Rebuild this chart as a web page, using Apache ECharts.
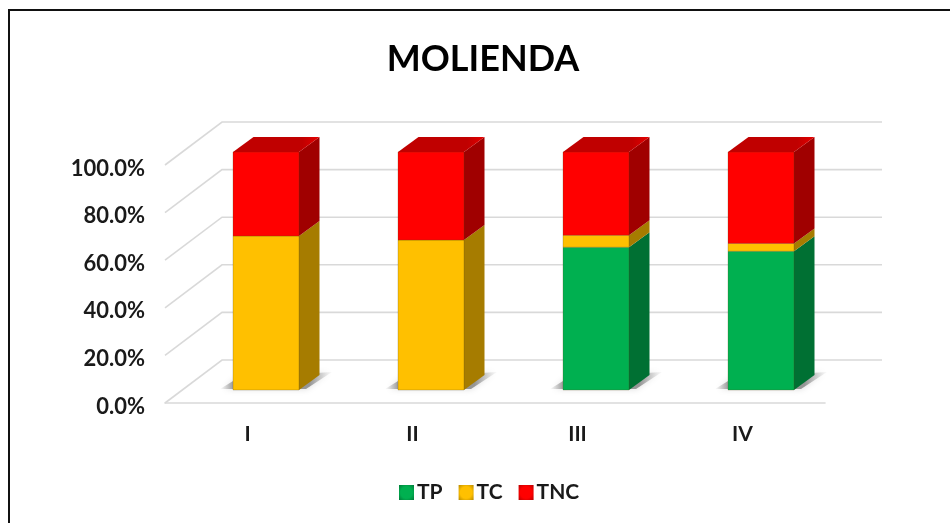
<!DOCTYPE html>
<html>
<head>
<meta charset="utf-8">
<style>
  html, body { margin: 0; padding: 0; background: #fff; }
  #main { width: 950px; height: 523px; }
</style>
<script src="https://cdn.jsdelivr.net/npm/echarts@6/dist/echarts.min.js"></script>
</head>
<body>
<div id="main"></div>
<script>
var categories = ['I', 'II', 'III', 'IV'];
var tpValues = [0, 0, 60, 58.3];
var tcValues = [64.7, 63, 5, 3.3];
var tncValues = [35.3, 37, 35, 38.4];
var yTicks = [0, 20, 40, 60, 80, 100];

// profundidad del efecto 3D, en pixeles
var WALL_DX = 57, WALL_DY = 43;
var BAR_DX = 18.5, BAR_DY = 13;
var SIDE_DX = 20.5, SIDE_DY = 15;

var myChart = echarts.init(document.getElementById('main'));

// pared del fondo: diagonal desde el eje y linea horizontal
function renderWall(params, api) {
  var p = api.coord([0, api.value(1)]);
  var cs = params.coordSys;
  var x0 = cs.x, y0 = p[1];
  return {
    type: 'polyline',
    silent: true,
    shape: { points: [[x0, y0], [x0 + WALL_DX, y0 - WALL_DY], [x0 + cs.width + WALL_DX, y0 - WALL_DY]] },
    style: { fill: null, stroke: '#D9D9D9', lineWidth: 1.6 }
  };
}

// sombra de cada barra sobre el piso
function renderShadow(params, api) {
  var p = api.coord([api.value(0), 0]);
  var w = api.size([1, 0])[0] * 0.4;
  var left = p[0] + BAR_DX - w / 2, right = left + w, y = p[1] - BAR_DY;
  return {
    type: 'polygon',
    silent: true,
    shape: { points: [[left - 13, y - 1], [left + 5, y - 12], [right + 33, y - 18], [right + 7, y - 1]] },
    style: {
      fill: new echarts.graphic.LinearGradient(0, 0, 1, 0, [
        { offset: 0, color: 'rgba(140,140,140,0)' },
        { offset: 0.12, color: 'rgba(130,130,130,0.75)' },
        { offset: 0.8, color: 'rgba(130,130,130,0.8)' },
        { offset: 1, color: 'rgba(170,170,170,0.05)' }
      ]),
      shadowBlur: 6,
      shadowColor: 'rgba(160,160,160,0.5)'
    }
  };
}

function barRenderer(front, side, top) {
  return function (params, api) {
    var from = api.value(1), to = api.value(2);
    if (to <= from) return null;
    var a = api.coord([api.value(0), from]);
    var b = api.coord([api.value(0), to]);
    var w = api.size([1, 0])[0] * 0.4;
    var left = a[0] + BAR_DX - w / 2, right = left + w;
    var y0 = a[1] - BAR_DY, y1 = b[1] - BAR_DY;
    var children = [
      {
        type: 'polygon',
        shape: { points: [[right, y0], [right + SIDE_DX, y0 - SIDE_DY], [right + SIDE_DX, y1 - SIDE_DY], [right, y1]] },
        style: { fill: side }
      },
      {
        type: 'rect',
        shape: { x: left, y: y1, width: w, height: y0 - y1 },
        style: { fill: front, stroke: 'rgba(90,70,20,0.25)', lineWidth: 1 }
      }
    ];
    if (top) {
      children.push({
        type: 'polygon',
        shape: { points: [[left, y1], [left + SIDE_DX, y1 - SIDE_DY], [right + SIDE_DX, y1 - SIDE_DY], [right, y1]] },
        style: {
          fill: new echarts.graphic.LinearGradient(0, 0, 1, 0, [
            { offset: 0, color: top },
            { offset: 0.8, color: top },
            { offset: 1, color: '#E60000' }
          ])
        }
      });
    }
    return { type: 'group', children: children };
  };
}

// acumula los valores para tener inicio y fin de cada tramo
function stackData(values, lower) {
  return values.map(function (v, i) {
    var base = 0;
    lower.forEach(function (arr) { base += arr[i]; });
    return [i, base, base + v];
  });
}

// icono de leyenda con borde biselado
function legendIcon(light, dark) {
  return new echarts.graphic.RadialGradient(0.5, 0.5, 0.7, [
    { offset: 0, color: light },
    { offset: 0.55, color: light },
    { offset: 1, color: dark }
  ]);
}

var option = {
  animation: false,
  backgroundColor: '#fff',
  textStyle: { fontFamily: 'Lato' },
  title: {
    text: 'MOLIENDA',
    left: 478,
    top: 36,
    textAlign: 'center',
    textStyle: { fontFamily: 'Lato', fontSize: 36, fontWeight: 'bold', color: '#000' }
  },
  graphic: [{
    type: 'polyline',
    silent: true,
    shape: { points: [[9, 523], [9, 10], [950, 10]] },
    style: { fill: null, stroke: '#111', lineWidth: 2 }
  }],
  grid: { left: 165, top: 165, width: 660, height: 238 },
  xAxis: {
    type: 'category',
    data: categories,
    axisLine: { lineStyle: { color: '#D9D9D9', width: 1.6 } },
    axisTick: { show: false },
    axisLabel: { margin: 21, fontSize: 21, fontWeight: 'bold', color: '#1a1a1a', fontFamily: 'Lato' }
  },
  yAxis: {
    type: 'value',
    min: 0,
    max: 100,
    interval: 20,
    axisLine: { show: false },
    axisTick: { show: false },
    splitLine: { show: false },
    axisLabel: {
      margin: 20,
      fontSize: 22,
      fontWeight: 'bold',
      color: '#1a1a1a',
      fontFamily: 'Lato',
      verticalAlign: 'top',
      lineHeight: 7,
      formatter: function (v) { return v.toFixed(1) + '%'; }
    }
  },
  legend: {
    data: [
      { name: 'TP', itemStyle: { color: legendIcon('#00B050', '#007A38') } },
      { name: 'TC', itemStyle: { color: legendIcon('#FFC000', '#B88A00') } },
      { name: 'TNC', itemStyle: { color: legendIcon('#FF0000', '#B80000') } }
    ],
    left: 394,
    top: 477,
    itemWidth: 15,
    itemHeight: 15,
    itemGap: 16,
    icon: 'rect',
    selectedMode: false,
    textStyle: { fontSize: 21, fontWeight: 'bold', color: '#1a1a1a', fontFamily: 'Lato', padding: [0, 0, 0, -2] }
  },
  series: [
    {
      name: 'wall',
      type: 'custom',
      z: 1,
      clip: false,
      silent: true,
      renderItem: renderWall,
      data: yTicks.map(function (t) { return [0, t]; })
    },
    {
      name: 'shadow',
      type: 'custom',
      z: 2,
      clip: false,
      silent: true,
      renderItem: renderShadow,
      data: categories.map(function (c, i) { return [i, 0]; })
    },
    {
      name: 'TP',
      type: 'custom',
      z: 3,
      clip: false,
      itemStyle: { color: '#00B050' },
      renderItem: barRenderer('#00B050', '#007033', null),
      encode: { x: 0, y: 2 },
      data: stackData(tpValues, [])
    },
    {
      name: 'TC',
      type: 'custom',
      z: 4,
      clip: false,
      itemStyle: { color: '#FFC000' },
      renderItem: barRenderer('#FFC000', '#A67C00', null),
      encode: { x: 0, y: 2 },
      data: stackData(tcValues, [tpValues])
    },
    {
      name: 'TNC',
      type: 'custom',
      z: 5,
      clip: false,
      itemStyle: { color: '#FF0000' },
      renderItem: barRenderer('#FF0000', '#A00000', '#C00000'),
      encode: { x: 0, y: 2 },
      data: stackData(tncValues, [tpValues, tcValues])
    }
  ]
};

myChart.setOption(option);
</script>
</body>
</html>
